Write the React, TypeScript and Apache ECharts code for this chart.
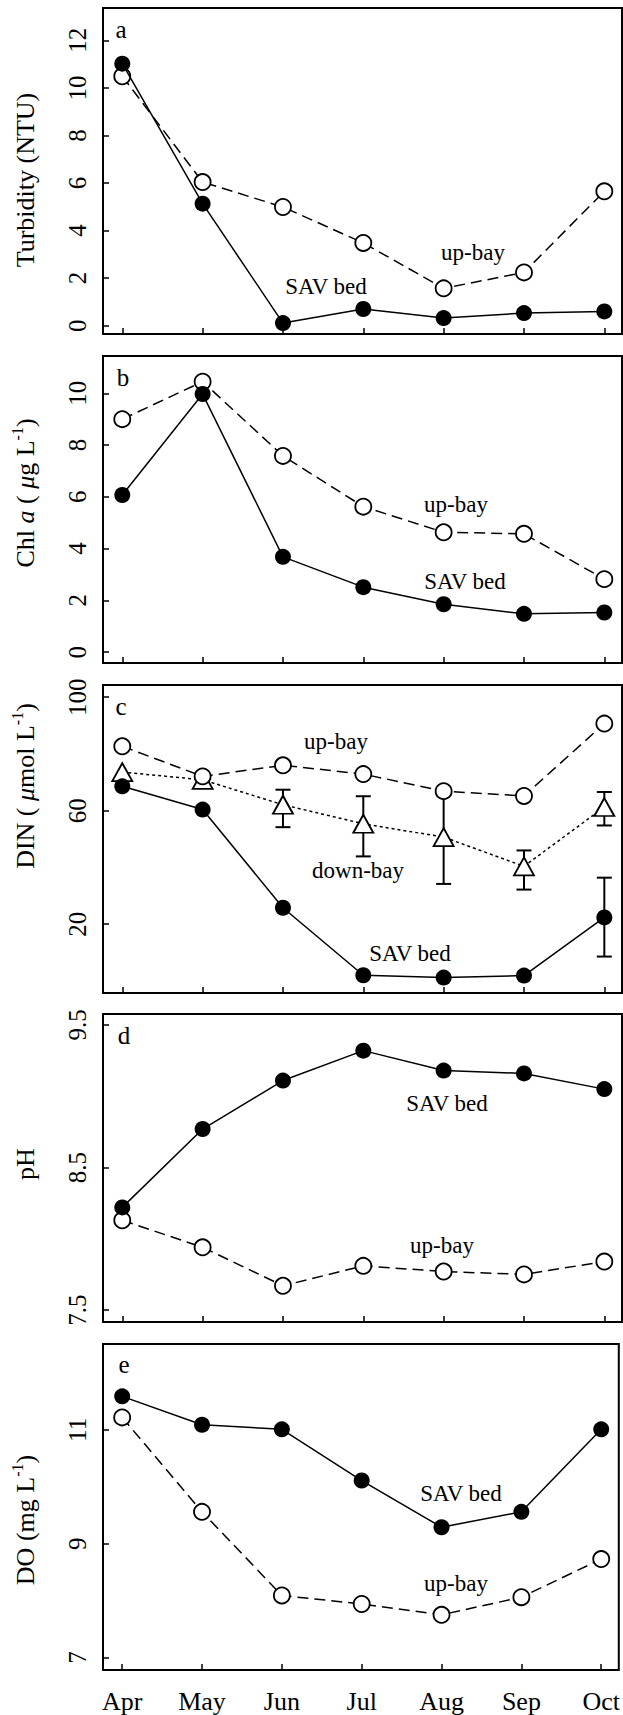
import React, { useEffect, useRef } from 'react';
import * as echarts from 'echarts';

const SERIF = 'Liberation Serif';

const months = ['Apr', 'May', 'Jun', 'Jul', 'Aug', 'Sep', 'Oct'];
const monthIdx = [0, 1, 2, 3, 4, 5, 6];

// (a) Turbidity (NTU)
const turbSav = [11.02, 5.13, 0.11, 0.7, 0.32, 0.53, 0.6];
const turbUp = [10.49, 6.04, 4.99, 3.48, 1.57, 2.24, 5.65];
const turbTicks = [0, 2, 4, 6, 8, 10, 12];

// (b) Chl a
const chlSav = [6.07, 9.97, 3.68, 2.51, 1.85, 1.48, 1.53];
const chlUp = [9.0, 10.45, 7.58, 5.62, 4.63, 4.57, 2.82];
const chlTicks = [0, 2, 4, 6, 8, 10];

// (c) DIN
const dinSav = [68.6, 60.4, 25.8, 2.0, 1.2, 1.9, 22.4];
const dinUp = [82.7, 72.1, 76.0, 72.9, 66.9, 65.2, 90.7];
const dinDown = [73.6, 70.9, 62.1, 55.4, 50.7, 40.4, 61.3];
const dinDownHigh = [null, null, 67.4, 65.1, 66.9, 46.0, 66.6];
const dinDownLow = [null, null, 54.2, 43.9, 34.2, 32.2, 54.8];
const dinSavHigh = [null, null, null, null, null, null, 36.4];
const dinSavLow = [null, null, null, null, null, null, 8.6];
const dinTicks = [20, 60, 100];

// (d) pH
const phSav = [8.22, 8.77, 9.11, 9.32, 9.18, 9.16, 9.05];
const phUp = [8.13, 7.94, 7.67, 7.81, 7.77, 7.75, 7.84];
const phTicks = [7.5, 8.5, 9.5];

// (e) DO
const doSav = [11.59, 11.09, 11.01, 10.11, 9.29, 9.56, 11.01];
const doUp = [11.22, 9.56, 8.09, 7.94, 7.75, 8.06, 8.73];
const doTicks = [7, 9, 11];

const panels = [
  { top: 8, height: 326, min: -0.35, max: 13.36, ticks: turbTicks, dec: 0, sav: turbSav, up: turbUp },
  { top: 356, height: 307, min: -0.42, max: 11.44, ticks: chlTicks, dec: 0, sav: chlSav, up: chlUp },
  { top: 685, height: 308, min: -4.24, max: 104.3, ticks: dinTicks, dec: 0, sav: dinSav, up: dinUp },
  { top: 1014, height: 308, min: 7.416, max: 9.577, ticks: phTicks, dec: 1, sav: phSav, up: phUp },
  { top: 1344, height: 326, min: 6.78, max: 12.51, ticks: doTicks, dec: 0, sav: doSav, up: doUp },
];

const X_MIN = -0.24;
const X_MAX = 6.22;

const pairs = (vals: (number | null)[]) => monthIdx.map((i) => [i, vals[i]]);

function App() {
  const ref = useRef<HTMLDivElement>(null);

  useEffect(() => {
    if (!ref.current) return;
    const chart = echarts.init(ref.current, undefined, { renderer: 'svg' });

    const grids = panels.map((p) => ({
      left: 103,
      width: 519,
      top: p.top,
      height: p.height,
      show: true,
      borderColor: '#000',
      borderWidth: 2,
      backgroundColor: 'transparent',
      containLabel: false,
    }));

    const xAxes = panels.map((p, i) => ({
      type: 'value',
      gridIndex: i,
      min: X_MIN,
      max: X_MAX,
      axisLine: { show: false, onZero: false },
      splitLine: { show: false },
      axisTick: {
        show: true,
        inside: true,
        length: 6,
        customValues: monthIdx,
        lineStyle: { color: '#000', width: 1.5 },
      },
      axisLabel: {
        show: i === panels.length - 1,
        customValues: monthIdx,
        formatter: (v: number) => months[Math.round(v)] ?? '',
        margin: 18,
        fontSize: 26,
        fontFamily: SERIF,
        color: '#000',
      },
    }));

    const yAxes = panels.map((p, i) => ({
      type: 'value',
      gridIndex: i,
      min: p.min,
      max: p.max,
      axisLine: { show: false, onZero: false },
      splitLine: { show: false },
      axisTick: {
        show: true,
        inside: true,
        length: 6,
        customValues: p.ticks,
        lineStyle: { color: '#000', width: 1.5 },
      },
      axisLabel: { show: false },
    }));

    const series: any[] = [];
    panels.forEach((p, i) => {
      series.push({
        type: 'line',
        xAxisIndex: i,
        yAxisIndex: i,
        data: pairs(p.up),
        symbol: 'circle',
        symbolSize: 16,
        z: 3,
        lineStyle: { color: '#000', width: 1.5, type: [11, 6] },
        itemStyle: { color: '#fff', borderColor: '#000', borderWidth: 1.8 },
      });
      series.push({
        type: 'line',
        xAxisIndex: i,
        yAxisIndex: i,
        data: pairs(p.sav),
        symbol: 'circle',
        symbolSize: 16,
        z: 4,
        lineStyle: { color: '#000', width: 1.5 },
        itemStyle: { color: '#000', borderColor: '#000', borderWidth: 0 },
      });
    });

    // down-bay in DIN panel
    series.push({
      type: 'line',
      xAxisIndex: 2,
      yAxisIndex: 2,
      data: pairs(dinDown),
      symbol: 'triangle',
      symbolSize: [20, 18],
      z: 2,
      lineStyle: { color: '#000', width: 1.5, type: [3, 3] },
      itemStyle: { color: '#fff', borderColor: '#000', borderWidth: 1.8 },
    });

    const errData: number[][] = [];
    monthIdx.forEach((i) => {
      if (dinDownLow[i] != null && dinDownHigh[i] != null) errData.push([i, dinDownLow[i] as number, dinDownHigh[i] as number]);
      if (dinSavLow[i] != null && dinSavHigh[i] != null) errData.push([i, dinSavLow[i] as number, dinSavHigh[i] as number]);
    });

    series.push({
      type: 'custom',
      xAxisIndex: 2,
      yAxisIndex: 2,
      z: 1,
      data: errData,
      encode: { x: 0, y: [1, 2] },
      renderItem: (params: any, api: any) => {
        const x = api.value(0);
        const lo = api.coord([x, api.value(1)]);
        const hi = api.coord([x, api.value(2)]);
        const w = 7.5;
        const st = { stroke: '#000', lineWidth: 2 };
        return {
          type: 'group',
          children: [
            { type: 'line', shape: { x1: lo[0], y1: lo[1], x2: hi[0], y2: hi[1] }, style: st },
            { type: 'line', shape: { x1: hi[0] - w, y1: hi[1], x2: hi[0] + w, y2: hi[1] }, style: st },
            { type: 'line', shape: { x1: lo[0] - w, y1: lo[1], x2: lo[0] + w, y2: lo[1] }, style: st },
          ],
        };
      },
    });

    const titleRich = {
      n: { fontSize: 26, fontFamily: SERIF, lineHeight: 32, fill: '#000', color: '#000' },
      i: { fontSize: 26, fontFamily: SERIF, fontStyle: 'italic', lineHeight: 32, fill: '#000', color: '#000' },
      s: { fontSize: 16, fontFamily: SERIF, verticalAlign: 'top', fill: '#000', color: '#000' },
    };
    const title = (text: string, y: number) => ({
      type: 'text',
      x: 25,
      y,
      rotation: Math.PI / 2,
      style: {
        text,
        rich: titleRich,
        fontSize: 26,
        fontFamily: SERIF,
        fill: '#000',
        align: 'center',
        verticalAlign: 'middle',
      },
    });
    const note = (text: string, x: number, y: number, size = 23) => ({
      type: 'text',
      x,
      y,
      style: {
        text,
        fontSize: size,
        fontFamily: SERIF,
        fill: '#000',
        align: 'center',
        verticalAlign: 'middle',
      },
      z: 10,
    });

    const graphic: any[] = [
      title('{n|Turbidity (NTU)}', 180),
      title('{n|Chl }{i|a}{n| ( }{i|μ}{n|g L}{s|-1}{n|)}', 493),
      title('{n|DIN ( }{i|μ}{n|mol L}{s|-1}{n|)}', 786),
      title('{n|pH}', 1164),
      title('{n|DO (mg L}{s|-1}{n|)}', 1520),
      note('a', 121, 29, 25),
      note('b', 123, 377, 25),
      note('c', 121, 706, 25),
      note('d', 124, 1035, 25),
      note('e', 124, 1364, 25),
      note('up-bay', 473, 252),
      note('SAV bed', 326, 286),
      note('up-bay', 456, 504),
      note('SAV bed', 465, 581),
      note('up-bay', 336, 741),
      note('down-bay', 358, 870),
      note('SAV bed', 410, 953),
      note('SAV bed', 447, 1103),
      note('up-bay', 442, 1245),
      note('SAV bed', 461, 1493),
      note('up-bay', 456, 1583),
    ];

    chart.setOption({
      animation: false,
      backgroundColor: '#fff',
      grid: grids,
      xAxis: xAxes,
      yAxis: yAxes,
      series,
      graphic,
    });

    // rotated y tick labels, placed through each panel's y scale
    const tickLabels: any[] = [];
    panels.forEach((p, i) => {
      p.ticks.forEach((v) => {
        const pt = chart.convertToPixel({ gridIndex: i } as any, [X_MIN, v]) as number[];
        tickLabels.push({
          type: 'text',
          x: 77,
          y: pt[1],
          rotation: Math.PI / 2,
          style: {
            text: v.toFixed(p.dec),
            fontSize: 25,
            fontFamily: SERIF,
            fill: '#000',
            align: 'center',
            verticalAlign: 'middle',
          },
        });
      });
    });

    chart.setOption({ graphic: [...graphic, ...tickLabels] });

    return () => chart.dispose();
  }, []);

  return (
    <div
      ref={ref}
      style={{ position: 'absolute', left: 0, top: 0, width: 623, height: 1715, background: '#fff' }}
    />
  );
}

export default App;
